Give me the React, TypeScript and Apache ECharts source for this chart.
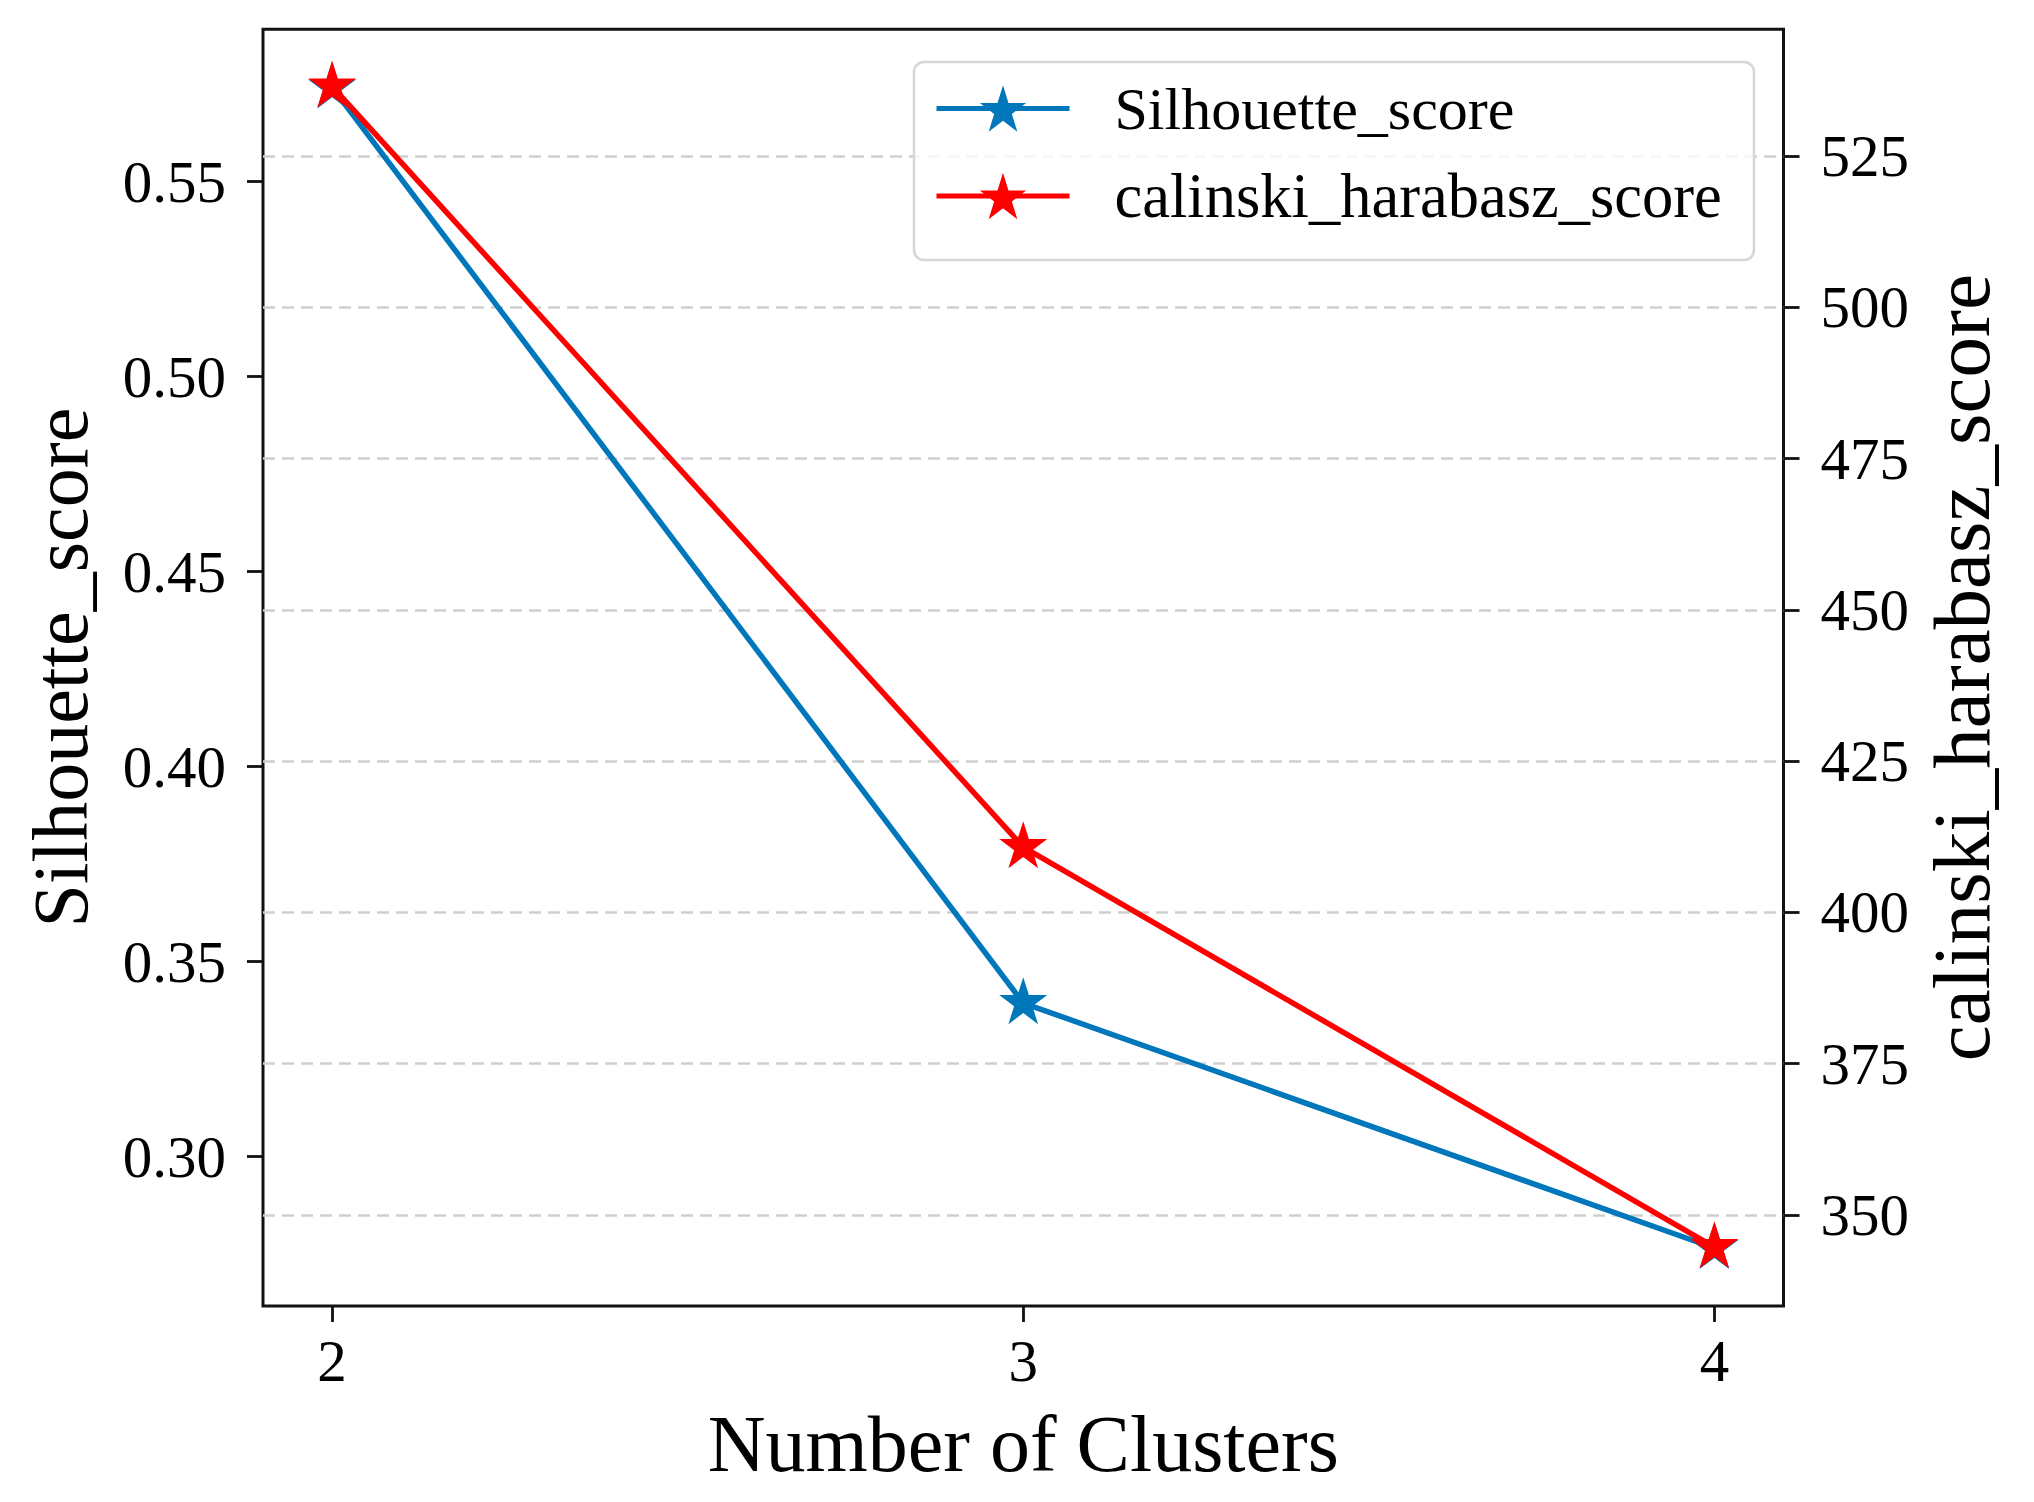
import React, { useEffect, useRef } from "react";
import * as echarts from "echarts";

const clusters = [2, 3, 4];
const silhouetteScore = [0.5742, 0.3394, 0.2766];
const calinskiScore = [536.5, 410.8, 344.7];
const xTicks = [2, 3, 4];
const leftTicks = [0.3, 0.35, 0.4, 0.45, 0.5, 0.55];
const rightTicks = [350, 375, 400, 425, 450, 475, 500, 525];

const STAR =
  "path://M100,0 L122.45,69.1 L195.11,69.1 L136.33,111.8 L158.78,180.9 L100,138.2 L41.22,180.9 L63.67,111.8 L4.89,69.1 L77.55,69.1 Z";

const FONT = "Liberation Serif";
const BLUE = "#0077BB";
const RED = "#FF0000";

export default function App() {
  const ref = useRef<HTMLDivElement>(null);
  useEffect(() => {
    if (!ref.current) return;
    const chart = echarts.init(ref.current, null, { renderer: "svg" });
    const tickLabel = { fontFamily: FONT, fontSize: 59, color: "#000" };
    const tickLine = { color: "#111", width: 2.8 };
    chart.setOption({
      animation: false,
      backgroundColor: "#fff",
      grid: {
        left: 263,
        right: 250.5,
        top: 29.3,
        bottom: 196,
        show: true,
        borderColor: "#111",
        borderWidth: 3,
        backgroundColor: "transparent",
        outerBoundsMode: "none",
        containLabel: false,
      },
      legend: {
        orient: "vertical",
        left: 934,
        top: 78.5,
        padding: 0,
        itemWidth: 133,
        itemHeight: 58,
        itemGap: 26,
        selectedMode: false,
        lineStyle: { width: 5 },
        data: [
          { name: "Silhouette_score", textStyle: { fontSize: 60 } },
          { name: "calinski_harabasz_score", textStyle: { fontSize: 62.5 } },
        ],
        textStyle: {
          fontFamily: FONT,
          fontSize: 61,
          color: "#000",
          padding: [0, 0, 0, 40],
        },
      },
      graphic: [
        {
          type: "rect",
          z: 3,
          silent: true,
          shape: { x: 914, y: 62, width: 840, height: 198, r: 10 },
          style: { fill: "rgba(255,255,255,0.8)", stroke: "#d6d6d6", lineWidth: 2.5 },
        },
      ],
      xAxis: {
        type: "value",
        min: 1.9,
        max: 4.1,
        name: "Number of Clusters",
        nameLocation: "middle",
        nameGap: 98,
        nameTextStyle: { fontFamily: FONT, fontSize: 80, color: "#000" },
        axisLine: { show: false },
        axisTick: { show: true, length: 16, lineStyle: tickLine, customValues: xTicks },
        axisLabel: { ...tickLabel, margin: 25, customValues: xTicks, formatter: (v: number) => String(v) },
        splitLine: { show: false },
      },
      yAxis: [
        {
          type: "value",
          position: "left",
          min: 0.26172,
          max: 0.58908,
          name: "Silhouette_score",
          nameLocation: "middle",
          nameGap: 164,
          nameTextStyle: { fontFamily: FONT, fontSize: 78, color: "#000" },
          axisLine: { show: false },
          axisTick: { show: true, length: 16, lineStyle: tickLine, customValues: leftTicks },
          axisLabel: { ...tickLabel, margin: 37, customValues: leftTicks, formatter: (v: number) => v.toFixed(2) },
          splitLine: { show: false },
        },
        {
          type: "value",
          position: "right",
          min: 334.96,
          max: 545.94,
          name: "calinski_harabasz_score",
          nameLocation: "middle",
          nameGap: 138,
          nameTextStyle: { fontFamily: FONT, fontSize: 81, color: "#000" },
          axisLine: { show: false },
          axisTick: { show: true, length: 16, lineStyle: tickLine, customValues: rightTicks },
          axisLabel: { ...tickLabel, margin: 37, customValues: rightTicks, formatter: (v: number) => String(v) },
          splitLine: {
            show: true,
            showMinLine: true,
            showMaxLine: true,
            lineStyle: { color: "#cfcfcf", width: 2.5, type: [12, 7] },
          },
        },
      ],
      series: [
        {
          name: "Silhouette_score",
          type: "line",
          yAxisIndex: 0,
          data: clusters.map((c, i) => [c, silhouetteScore[i]]),
          symbol: STAR,
          symbolSize: [48, 47],
          symbolOffset: [0, -2.4],
          lineStyle: { color: BLUE, width: 5.5 },
          itemStyle: { color: BLUE },
          z: 2,
        },
        {
          name: "calinski_harabasz_score",
          type: "line",
          yAxisIndex: 1,
          data: clusters.map((c, i) => [c, calinskiScore[i]]),
          symbol: STAR,
          symbolSize: [48, 47],
          symbolOffset: [0, -2.4],
          lineStyle: { color: RED, width: 5.5 },
          itemStyle: { color: RED },
          z: 3,
        },
      ],
    });
    return () => chart.dispose();
  }, []);
  return (
    <div
      ref={ref}
      style={{ position: "absolute", left: 0, top: 0, width: 2034, height: 1502, background: "#fff" }}
    />
  );
}
